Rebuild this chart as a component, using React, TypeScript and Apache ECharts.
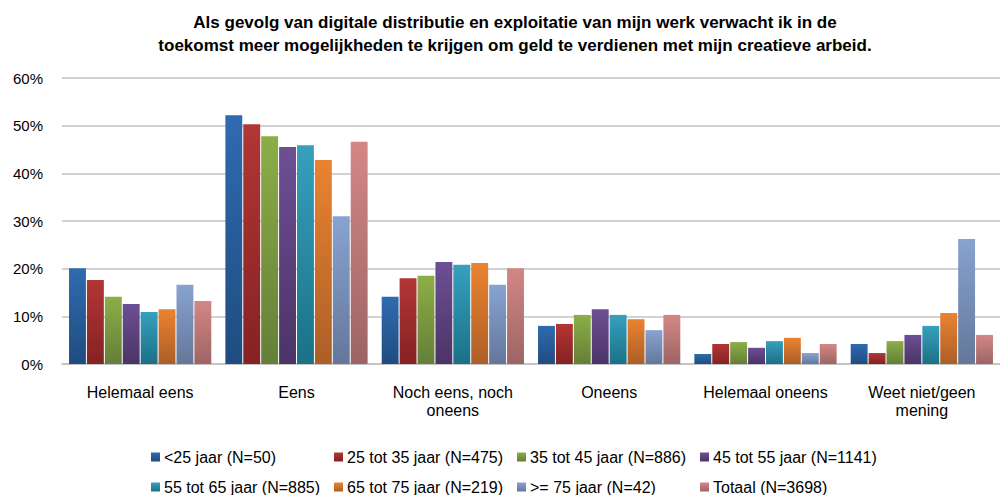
import React, { useEffect, useRef } from "react";
import * as echarts from "echarts";

const categories = [
  "Helemaal eens",
  "Eens",
  "Noch eens, noch\noneens",
  "Oneens",
  "Helemaal oneens",
  "Weet niet/geen\nmening",
];

const seriesNames = [
  "<25 jaar (N=50)",
  "25 tot 35 jaar (N=475)",
  "35 tot 45 jaar (N=886)",
  "45 tot 55 jaar (N=1141)",
  "55 tot 65 jaar (N=885)",
  "65 tot 75 jaar (N=219)",
  ">= 75 jaar (N=42)",
  "Totaal (N=3698)",
];

const under25 = [20.1, 52.2, 14.1, 8.0, 2.1, 4.2];
const age25to35 = [17.6, 50.3, 18.0, 8.4, 4.2, 2.3];
const age35to45 = [14.1, 47.8, 18.5, 10.3, 4.6, 4.8];
const age45to55 = [12.6, 45.5, 21.4, 11.5, 3.4, 6.1];
const age55to65 = [10.9, 45.9, 20.8, 10.3, 4.8, 8.0];
const age65to75 = [11.5, 42.8, 21.2, 9.4, 5.5, 10.7];
const age75plus = [16.6, 31.0, 16.6, 7.1, 2.3, 26.2];
const totaal = [13.2, 46.6, 20.1, 10.3, 4.2, 6.1];

const seriesData = [under25, age25to35, age35to45, age45to55, age55to65, age65to75, age75plus, totaal];

const yTicks = [0, 10, 20, 30, 40, 50, 60];

const gradients: [string, string][] = [
  ["#2f6bb0", "#1f4c80"],
  ["#b23636", "#852222"],
  ["#8cae47", "#647f38"],
  ["#6d4f94", "#4b3466"],
  ["#37a0bd", "#1a7186"],
  ["#ea8330", "#ac5e28"],
  ["#88a3d0", "#64779a"],
  ["#d38785", "#9c6564"],
];

const FONT = "'Liberation Sans', Arial, sans-serif";

export default function App() {
  const ref = useRef<HTMLDivElement>(null);

  useEffect(() => {
    if (!ref.current) return;
    const chart = echarts.init(ref.current, undefined, { renderer: "svg" });
    chart.setOption({
      animation: false,
      backgroundColor: "#ffffff",
      title: {
        text: "Als gevolg van digitale distributie en exploitatie van mijn werk verwacht ik in de\ntoekomst meer mogelijkheden te krijgen om geld te verdienen met mijn creatieve arbeid.",
        left: 510,
        top: 6,
        textAlign: "center",
        textStyle: {
          fontFamily: FONT,
          fontSize: 17,
          fontWeight: "bold",
          color: "#000000",
          lineHeight: 23,
        },
      },
      grid: { left: 62, right: 0, top: 78, bottom: 131, containLabel: false },
      legend: {
        left: 151,
        top: 448,
        width: 790,
        padding: 0,
        itemWidth: 9,
        itemHeight: 9,
        itemGap: 12,
        icon: "rect",
        textStyle: {
          fontFamily: FONT,
          fontSize: 16,
          color: "#000000",
          width: 158,
          lineHeight: 18,
          padding: [0, 0, 0, -1],
        },
        data: seriesNames,
      },
      xAxis: {
        type: "category",
        data: categories,
        axisLine: { show: true, lineStyle: { color: "#bfbfbf", width: 1.5 } },
        axisTick: { show: false },
        axisLabel: {
          fontFamily: FONT,
          fontSize: 16,
          color: "#000000",
          margin: 19,
          lineHeight: 18,
          interval: 0,
        },
      },
      yAxis: {
        type: "value",
        min: yTicks[0],
        max: yTicks[yTicks.length - 1],
        interval: 10,
        axisLine: { show: false },
        axisTick: { show: false },
        splitLine: { lineStyle: { color: "#c3c3c3", width: 1.5 } },
        axisLabel: {
          fontFamily: FONT,
          fontSize: 15,
          color: "#000000",
          margin: 19,
          formatter: (v: number) => `${v}%`,
        },
      },
      series: seriesNames.map((name, i) => ({
        name,
        type: "bar",
        data: seriesData[i],
        barGap: "6%",
        barCategoryGap: "9%",
        itemStyle: {
          color: new echarts.graphic.LinearGradient(0, 0, 0, 1, [
            { offset: 0, color: gradients[i][0] },
            { offset: 1, color: gradients[i][1] },
          ]),
        },
      })),
    });
    return () => chart.dispose();
  }, []);

  return <div ref={ref} style={{ width: 1000, height: 495, position: "absolute", left: 0, top: 0 }} />;
}
